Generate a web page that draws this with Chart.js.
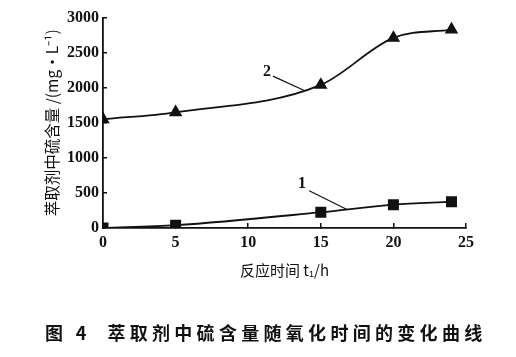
<!DOCTYPE html>
<html>
<head>
<meta charset="utf-8">
<script src="https://cdn.jsdelivr.net/npm/chart.js@4/dist/chart.umd.min.js"></script>
<style>
  html, body { margin: 0; padding: 0; background: #fff; }
  #wrap { position: relative; width: 516px; height: 357px; }
  #caption { position: absolute; left: 45px; top: 319px; font: bold 18px "Noto Sans CJK SC", sans-serif; letter-spacing: 4.3px; white-space: pre; color: #111; }
</style>
</head>
<body>
<div id="wrap">
  <canvas id="c" width="516" height="357"></canvas>
  <div id="caption">图 4  萃取剂中硫含量随氧化时间的变化曲线</div>
</div>
<script>
// ---- data ----
const times = [0, 5, 15, 20, 24];
const curve1 = [0, 40, 225, 333, 375];        // series "1"
const curve2 = [1550, 1650, 2040, 2710, 2830]; // series "2"
const xTicks = [0, 5, 10, 15, 20, 25];
const yTicks = [0, 500, 1000, 1500, 2000, 2500, 3000];
const calloutNames = ['1', '2'];
const calloutLabelX = [13.7, 11.3];
const calloutLabelY = [630, 2230];
const calloutFromX = [14.2, 11.7];
const calloutFromY = [530, 2165];
const calloutToX = [16.8, 13.9];
const calloutToY = [265, 1958];
const xTitle = '反应时间 t₁/h';
const yTitle = '萃取剂中硫含量 /(mg·L⁻¹)';

const tickFont = { family: '"Liberation Serif", serif', size: 16, weight: 'bold' };

const callouts = {
  id: 'callouts',
  afterDatasetsDraw(chart) {
    const { ctx, scales: { x, y } } = chart;
    ctx.save();
    ctx.strokeStyle = '#111';
    ctx.lineWidth = 1.2;
    ctx.fillStyle = '#111';
    ctx.font = 'bold 16px "Liberation Serif", serif';
    ctx.textAlign = 'center';
    ctx.textBaseline = 'middle';
    calloutNames.forEach((n, i) => {
      ctx.beginPath();
      ctx.moveTo(x.getPixelForValue(calloutFromX[i]), y.getPixelForValue(calloutFromY[i]));
      ctx.lineTo(x.getPixelForValue(calloutToX[i]), y.getPixelForValue(calloutToY[i]));
      ctx.stroke();
      ctx.fillText(n, x.getPixelForValue(calloutLabelX[i]), y.getPixelForValue(calloutLabelY[i]));
    });
    ctx.restore();
  }
};

new Chart(document.getElementById('c'), {
  type: 'line',
  data: {
    datasets: [
      {
        label: '1',
        data: times.map((t, i) => ({ x: t, y: curve1[i] })),
        borderColor: '#111', backgroundColor: '#111',
        borderWidth: 1.8, pointStyle: 'rect', pointRadius: 6.5,
        cubicInterpolationMode: 'monotone'
      },
      {
        label: '2',
        data: times.map((t, i) => ({ x: t, y: curve2[i] })),
        borderColor: '#111', backgroundColor: '#111',
        borderWidth: 1.8, pointStyle: 'triangle', pointRadius: 6,
        cubicInterpolationMode: 'monotone'
      }
    ]
  },
  options: {
    responsive: false,
    animation: false,
    layout: { padding: { top: 12, right: 50, bottom: 70, left: 0 } },
    plugins: { legend: { display: false }, tooltip: { enabled: false } },
    scales: {
      x: {
        type: 'linear', min: 0, max: 25,
        afterBuildTicks: s => { s.ticks = xTicks.map(v => ({ value: v })); },
        afterFit: s => { s.height = 59; },
        grid: { drawOnChartArea: false, tickLength: -5, color: '#111', lineWidth: 1.5 },
        border: { display: true, color: '#111', width: 1.8 },
        ticks: { color: '#111', font: tickFont, padding: 10, maxRotation: 0, callback: v => String(v) },
        title: { display: true, text: xTitle, color: '#111', font: { family: '"Noto Sans CJK SC", sans-serif', size: 15 }, padding: { top: 0, bottom: 8 } }
      },
      y: {
        min: 0, max: 3000,
        afterBuildTicks: s => { s.ticks = yTicks.map(v => ({ value: v })); },
        afterFit: s => { s.width = 103; },
        grid: { drawOnChartArea: false, tickLength: -4, color: '#111', lineWidth: 1.5 },
        border: { display: true, color: '#111', width: 1.8 },
        ticks: { color: '#111', font: tickFont, padding: 8, callback: v => String(v) },
        title: { display: true, text: yTitle, color: '#111', font: { family: '"Noto Sans CJK SC", sans-serif', size: 15.5 }, padding: { top: 43, bottom: 0 } }
      }
    }
  },
  plugins: [callouts]
});
</script>
</body>
</html>
